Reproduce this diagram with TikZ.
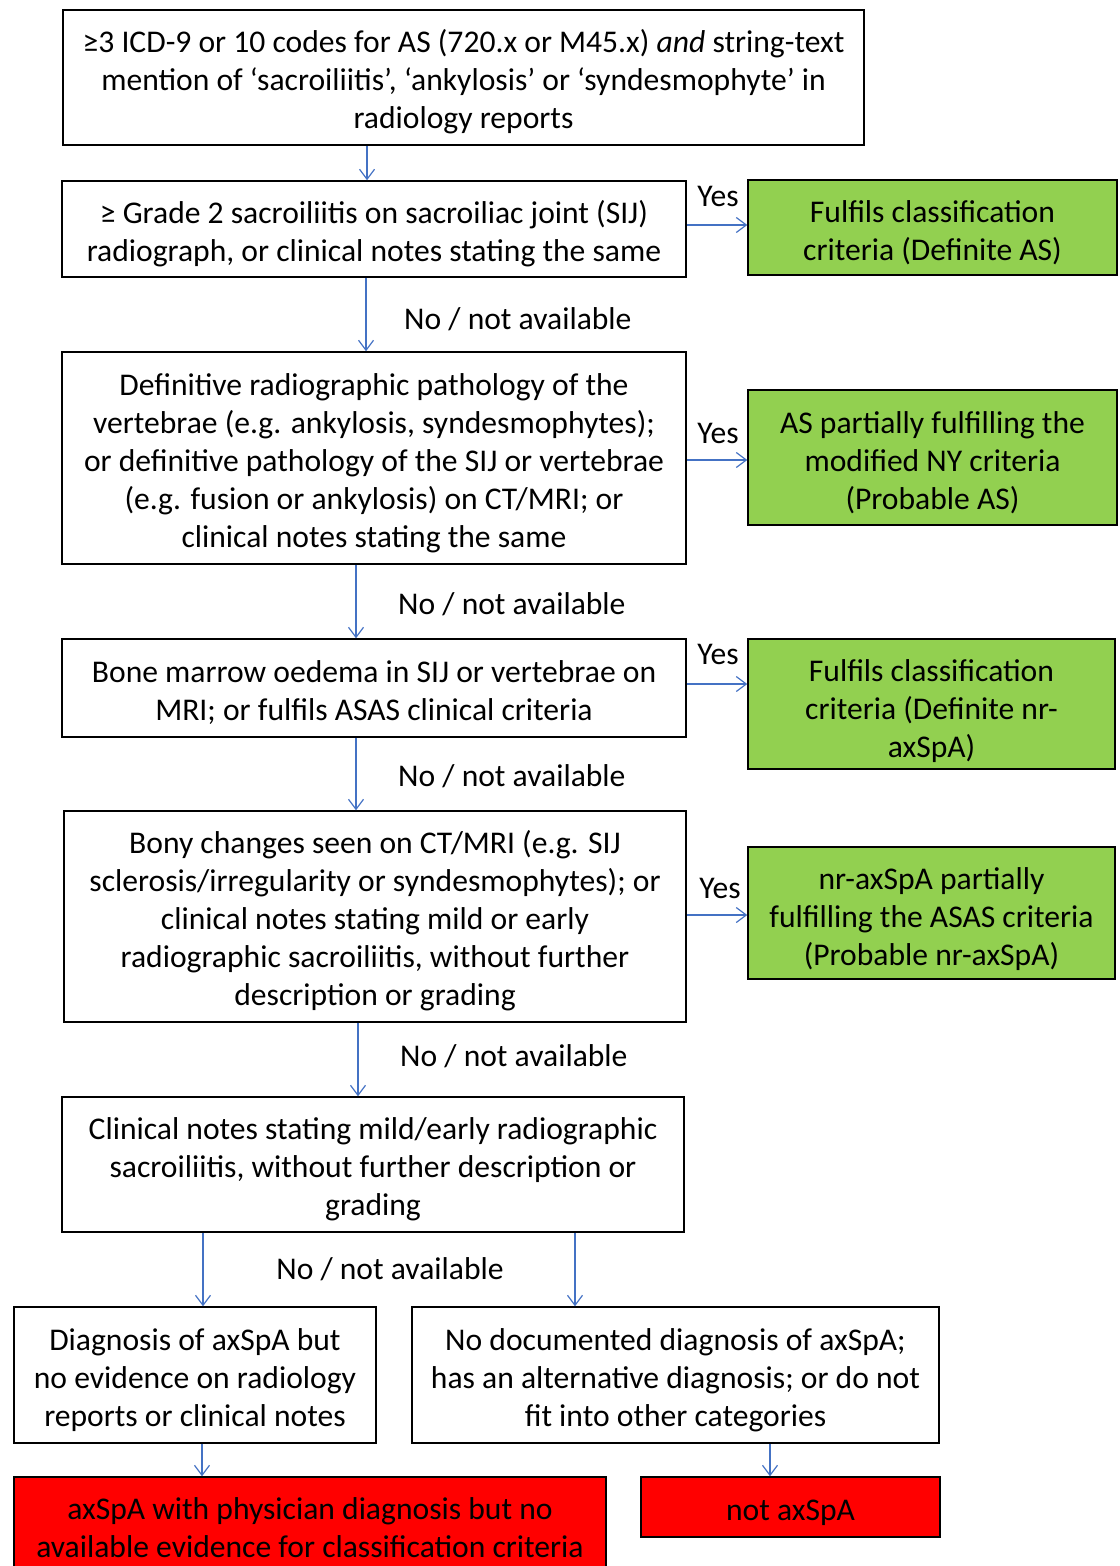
\documentclass[tikz,border=0pt]{standalone}
\usepackage{fontspec}
\setmainfont{Carlito}
\usetikzlibrary{arrows.meta}
\definecolor{boxgreen}{HTML}{92D050}
\definecolor{boxred}{HTML}{FF0000}
\definecolor{arrblue}{HTML}{4472C4}
\newcommand\lwrstrut[1][32pt]{\rule{0pt}{#1}}
\begin{document}
\begin{tikzpicture}[x=1pt,y=-1pt,
  txt/.style={font=\fontsize{31.6}{38}\selectfont, text=black},
  box/.style={txt, draw=black, line width=1.5pt, inner sep=0pt, align=center, fill=white},
  gbox/.style={box, fill=boxgreen},
  rbox/.style={box, fill=boxred},
  arr/.style={draw=arrblue, line width=1.2pt, -{Straight Barb[length=10pt,width=15pt,line width=1.2pt]}},
  lbl/.style={txt, inner sep=0pt}
]
\useasboundingbox (0,0) rectangle (1119,1566);
\clip (0,0) rectangle (1119,1566);

% main column
\node[box, minimum width=801, minimum height=135] (b1) at (463.5,77.5)
  {\lwrstrut ≥3 ICD-9 or 10 codes for AS (720.x or M45.x) \textit{and} string-text\\
   mention of ‘sacroiliitis’, ‘ankylosis’ or ‘syndesmophyte’ in\\
   radiology reports};
\node[box, minimum width=624, minimum height=96] (b2) at (374,229)
  {\lwrstrut ≥ Grade 2 sacroiliitis on sacroiliac joint (SIJ)\\
   radiograph, or clinical notes stating the same};
\node[box, minimum width=624, minimum height=212] (b3) at (374,458)
  {\lwrstrut Definitive radiographic pathology of the\\
   vertebrae (e.g. ankylosis, syndesmophytes);\\
   or definitive pathology of the SIJ or vertebrae\\
   (e.g. fusion or ankylosis) on CT/MRI; or\\
   clinical notes stating the same};
\node[box, minimum width=624, minimum height=98] (b4) at (374,688)
  {\lwrstrut Bone marrow oedema in SIJ or vertebrae on\\
   MRI; or fulfils ASAS clinical criteria};
\node[box, minimum width=622, minimum height=211] (b5) at (375,916.5)
  {\lwrstrut Bony changes seen on CT/MRI (e.g. SIJ\\
   sclerosis/irregularity or syndesmophytes); or\\
   clinical notes stating mild or early\\
   radiographic sacroiliitis, without further\\
   description or grading};
\node[box, minimum width=622, minimum height=135] (b6) at (373,1164.5)
  {\lwrstrut Clinical notes stating mild/early radiographic\\
   sacroiliitis, without further description or\\
   grading};
\node[box, minimum width=362, minimum height=136] (b7) at (195,1375)
  {\lwrstrut Diagnosis of axSpA but\\
   no evidence on radiology\\
   reports or clinical notes};
\node[box, minimum width=527, minimum height=136] (b8) at (675.5,1375)
  {\lwrstrut No documented diagnosis of axSpA;\\
   has an alternative diagnosis; or do not\\
   fit into other categories};

% outcome boxes
\node[gbox, minimum width=369, minimum height=95] (g1) at (932.5,227.5)
  {\lwrstrut Fulfils classification\\criteria (Definite AS)};
\node[gbox, minimum width=369, minimum height=135] (g2) at (932.5,457.5)
  {\lwrstrut AS partially fulfilling the\\modified NY criteria\\(Probable AS)};
\node[gbox, minimum width=367, minimum height=130] (g3) at (931.5,704)
  {\lwrstrut[37pt]Fulfils classification\\criteria (Definite nr-\\axSpA)};
\node[gbox, minimum width=367, minimum height=132] (g4) at (931.5,913)
  {\lwrstrut[34pt]nr-axSpA partially\\fulfilling the ASAS criteria\\(Probable nr-axSpA)};
\node[rbox, minimum width=592, minimum height=101] (r1) at (310,1527.5)
  {axSpA with physician diagnosis but no\\available evidence for classification criteria};
\node[rbox, minimum width=299, minimum height=60] (r2) at (790.5,1507)
  {\lwrstrut not axSpA};

% helper coordinates
\coordinate (x1) at (367,0);
\coordinate (x2) at (366,0);
\coordinate (x3) at (356,0);
\coordinate (x4) at (358,0);
\coordinate (x5) at (203,0);
\coordinate (x6) at (575,0);
\coordinate (x7) at (202,0);
\coordinate (x8) at (770,0);
\coordinate (y1) at (0,225);
\coordinate (y2) at (0,460);
\coordinate (y3) at (0,684);
\coordinate (y4) at (0,915);

% vertical connectors
\draw[arr] (b1.south -| x1) -- (b2.north -| x1);
\draw[arr] (b2.south -| x2) -- (b3.north -| x2);
\draw[arr] (b3.south -| x3) -- (b4.north -| x3);
\draw[arr] (b4.south -| x3) -- (b5.north -| x3);
\draw[arr] (b5.south -| x4) -- (b6.north -| x4);
\draw[arr] (b6.south -| x5) -- (b7.north -| x5);
\draw[arr] (b6.south -| x6) -- (b8.north -| x6);
\draw[arr] (b7.south -| x7) -- (r1.north -| x7);
\draw[arr] (b8.south -| x8) -- (r2.north -| x8);

% yes connectors
\draw[arr] (b2.east |- y1) -- (g1.west |- y1);
\draw[arr] (b3.east |- y2) -- (g2.west |- y2);
\draw[arr] (b4.east |- y3) -- (g3.west |- y3);
\draw[arr] (b5.east |- y4) -- (g4.west |- y4);

% labels
\node[lbl, anchor=west] (n1) at (404,319) {No / not available};
\node[lbl, anchor=west] (n2) at (398,604) {No / not available};
\node[lbl, anchor=west] (n3) at (398,776) {No / not available};
\node[lbl, anchor=west] (n4) at (400,1056) {No / not available};
\node[lbl] (n5) at (390,1269) {No / not available};
\node[lbl] (y1l) at (718,196) {Yes};
\node[lbl] (y2l) at (718,433) {Yes};
\node[lbl] (y3l) at (718,654) {Yes};
\node[lbl] (y4l) at (720,888) {Yes};
\end{tikzpicture}
\end{document}
